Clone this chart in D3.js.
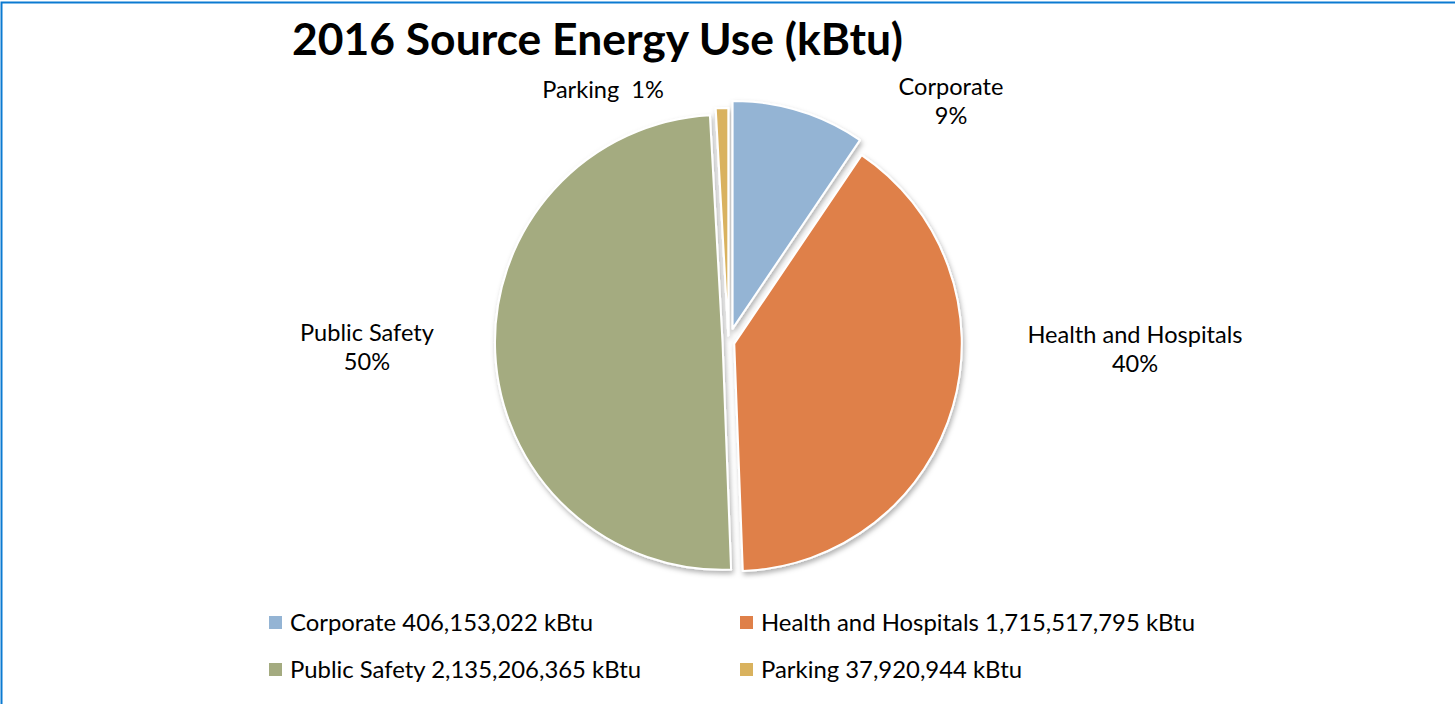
<!DOCTYPE html>
<html>
<head>
<meta charset="utf-8">
<script src="https://cdn.jsdelivr.net/npm/d3@7"></script>
<style>
  html, body { margin: 0; padding: 0; background: #fff; }
  svg { display: block; }
  text { font-family: Lato, "Open Sans", sans-serif; fill: #000; }
</style>
</head>
<body>
<svg id="chart" width="1455" height="704"></svg>
<script>
// Source energy use by department, 2016 (kBtu)
const categories = ["Corporate", "Health and Hospitals", "Public Safety", "Parking"];
const energyKBtu = [406153022, 1715517795, 2135206365, 37920944];
const sliceColors = ["#94B4D4", "#DF8049", "#A4AB80", "#D9B25E"];
const titleText = "2016 Source Energy Use (kBtu)";
const unitLabel = "kBtu";

// layout
const W = 1455, H = 704;
const center = { x: 728.5, y: 342 };
const radius = 227.5;
const explode = [14, 6, 6, 6.5];           // per-slice pull-out distance
const labelPos = [                          // anchor of each slice label (centre, first baseline)
  { x: 951, y: 95, lines: 2 },
  { x: 1135, y: 343, lines: 2 },
  { x: 367, y: 341, lines: 2 },
  { x: 603, y: 98, lines: 1 }
];
const lineGap = 29;

const svg = d3.select("#chart");

// outer frame
svg.append("rect")
  .attr("x", 1.5).attr("y", 2.5)
  .attr("width", W + 10).attr("height", H + 10)
  .attr("fill", "none")
  .attr("stroke", "#0B7AD1")
  .attr("stroke-width", 2);

// soft shadow beneath the slices
const defs = svg.append("defs");
const f = defs.append("filter").attr("id", "shadow")
  .attr("x", "-10%").attr("y", "-10%").attr("width", "130%").attr("height", "130%");
f.append("feDropShadow")
  .attr("dx", 1.5).attr("dy", 3).attr("stdDeviation", 2.5)
  .attr("flood-color", "#000").attr("flood-opacity", 0.3);

// helper: squeeze text horizontally to a target width
function fitGroup(sel, refNode, targetWidth) {
  const natural = refNode.getComputedTextLength();
  const k = targetWidth / natural;
  sel.each(function () {
    const w = this.getComputedTextLength();
    d3.select(this).attr("textLength", w * k).attr("lengthAdjust", "spacingAndGlyphs");
  });
}

// title
const title = svg.append("text")
  .attr("x", 292).attr("y", 55)
  .attr("font-size", 43).attr("font-weight", 700)
  .text(titleText);
fitGroup(title, title.node(), 611);

// pie
const data = categories.map((c, i) => ({ name: c, value: energyKBtu[i], color: sliceColors[i], idx: i }));
const total = d3.sum(energyKBtu);
const pie = d3.pie().value(d => d.value).sort(null);
const arcs = pie(data);
const arc = d3.arc().innerRadius(0).outerRadius(radius);

const g = svg.append("g")
  .attr("transform", `translate(${center.x},${center.y})`)
  .attr("filter", "url(#shadow)");

g.selectAll("path.slice")
  .data(arcs)
  .join("path")
  .attr("class", "slice")
  .attr("d", arc)
  .attr("fill", d => d.data.color)
  .attr("stroke", "#fff")
  .attr("stroke-width", 2)
  .attr("stroke-linejoin", "round")
  .attr("transform", d => {
    const mid = (d.startAngle + d.endAngle) / 2;
    const e = explode[d.data.idx];
    return `translate(${Math.sin(mid) * e},${-Math.cos(mid) * e})`;
  });

// slice labels
const pct = d3.format(".0%");
const labels = svg.append("g").attr("font-size", 23.5).attr("text-anchor", "middle");
const labelTexts = [];
arcs.forEach(d => {
  const p = labelPos[d.data.idx];
  const share = pct(d.data.value / total);
  if (p.lines === 2) {
    labelTexts.push(labels.append("text").attr("x", p.x).attr("y", p.y).text(d.data.name).node());
    labelTexts.push(labels.append("text").attr("x", p.x).attr("y", p.y + lineGap).text(share).node());
  } else {
    labelTexts.push(labels.append("text").attr("x", p.x).attr("y", p.y)
      .attr("xml:space", "preserve").text(d.data.name + "  " + share).node());
  }
});
fitGroup(d3.selectAll(labelTexts), labelTexts[2], 215);

// legend (2 x 2)
const num = d3.format(",");
const legendCols = [269, 740];
const legendRows = [631, 678];
const legend = svg.append("g").attr("font-size", 24);
const legendTexts = [];
data.forEach((d, i) => {
  const cx = legendCols[i % 2], cy = legendRows[Math.floor(i / 2)];
  legend.append("rect")
    .attr("x", cx).attr("y", cy - 15)
    .attr("width", 13).attr("height", 13)
    .attr("fill", d.color);
  legendTexts.push(legend.append("text")
    .attr("x", cx + 21).attr("y", cy)
    .text(`${d.name} ${num(d.value)} ${unitLabel}`).node());
});
fitGroup(d3.selectAll(legendTexts), legendTexts[0], 303);
</script>
</body>
</html>
